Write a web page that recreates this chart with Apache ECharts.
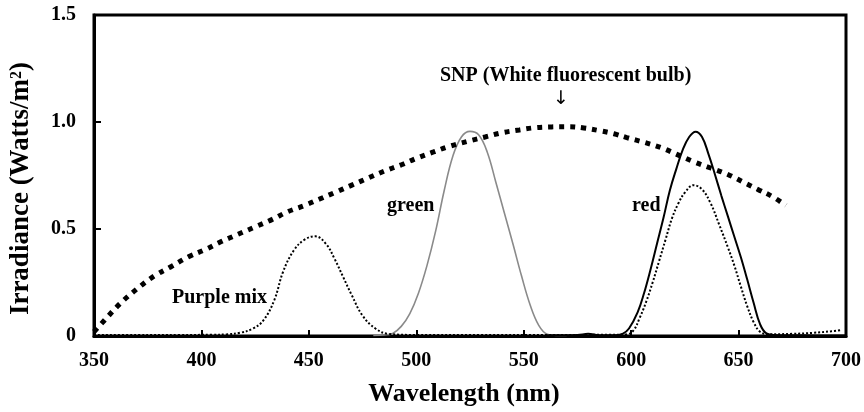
<!DOCTYPE html>
<html>
<head>
<meta charset="utf-8">
<script src="https://cdn.jsdelivr.net/npm/echarts@6/dist/echarts.min.js"></script>
<style>
  html, body { margin: 0; padding: 0; background: #fff; }
  #irradianceChart { width: 864px; height: 412px; }
</style>
</head>
<body>
<div id="irradianceChart"></div>
<script>
// wavelength (nm) / irradiance (W/m2)
const snpWl = [350, 355, 362, 370, 378, 386, 394, 402, 409, 417, 425, 433, 440, 448, 455, 462, 470, 478, 485, 493, 500, 508, 515, 524, 532, 540, 548, 555, 563, 571, 578, 585, 592, 598, 606, 614, 621, 629, 637, 645, 652, 659, 666, 672]
const snpIrr = [0.02, 0.075, 0.15, 0.22, 0.28, 0.325, 0.37, 0.405, 0.44, 0.475, 0.51, 0.545, 0.58, 0.61, 0.64, 0.67, 0.705, 0.74, 0.77, 0.8, 0.83, 0.86, 0.885, 0.91, 0.93, 0.95, 0.963, 0.973, 0.977, 0.978, 0.972, 0.96, 0.945, 0.927, 0.905, 0.88, 0.85, 0.815, 0.785, 0.755, 0.72, 0.685, 0.65, 0.61]

const purpleWl = [350, 370, 390, 405, 412, 418, 424, 429, 434, 438, 443, 448, 453, 458, 462, 466, 470, 475, 481, 487, 500, 530, 560, 590, 598, 601, 604, 607, 610, 613, 616, 619, 622, 625, 629, 633, 637, 641, 645, 648, 651, 654, 657, 660, 664, 675, 685, 693, 698]
const purpleIrr = [0.005, 0.005, 0.005, 0.006, 0.008, 0.015, 0.035, 0.075, 0.17, 0.3, 0.4, 0.45, 0.466, 0.43, 0.36, 0.275, 0.19, 0.095, 0.035, 0.01, 0.005, 0.005, 0.005, 0.006, 0.008, 0.025, 0.085, 0.16, 0.25, 0.35, 0.45, 0.55, 0.62, 0.67, 0.705, 0.685, 0.62, 0.52, 0.415, 0.33, 0.233, 0.14, 0.065, 0.02, 0.008, 0.01, 0.015, 0.022, 0.028]

const greenWl = [480, 485, 489, 493, 497, 501, 505, 509, 513, 517, 521, 525, 529, 533, 537, 541, 545, 549, 553, 557, 561, 565, 570]
const greenIrr = [0.003, 0.005, 0.012, 0.045, 0.105, 0.2, 0.33, 0.49, 0.68, 0.84, 0.93, 0.956, 0.94, 0.86, 0.72, 0.575, 0.43, 0.28, 0.145, 0.05, 0.008, 0.003, 0.002]

const redWl = [560, 575, 580, 585, 592, 596, 599, 603, 606, 609, 612, 615, 618, 621, 624, 627, 630, 633, 636, 639, 642, 645, 648, 651, 654, 657, 660, 663, 667, 680, 700]
const redIrr = [0.003, 0.005, 0.01, 0.004, 0.003, 0.01, 0.035, 0.11, 0.2, 0.31, 0.43, 0.55, 0.68, 0.78, 0.87, 0.93, 0.955, 0.93, 0.85, 0.755, 0.655, 0.56, 0.465, 0.37, 0.265, 0.155, 0.055, 0.012, 0.005, 0.003, 0.002]

const xTicks = [350, 700, 50]
const yTicks = [0, 1.5, 0.5]

const pairs = (xs, ys) => xs.map((x, i) => [x, ys[i]])
const serif = 'Liberation Serif'

const chart = echarts.init(document.getElementById('irradianceChart'))
const option = {
  animation: false,
  grid: {
    left: 92,
    right: 17,
    top: 15,
    bottom: 75,
    show: true,
    borderColor: '#000',
    borderWidth: 3
  },
  xAxis: {
    type: 'value',
    min: xTicks[0],
    max: xTicks[1],
    interval: xTicks[2],
    name: 'Wavelength (nm)',
    nameLocation: 'middle',
    nameGap: 45,
    nameTextStyle: { fontFamily: serif, fontWeight: 'bold', fontSize: 26, color: '#000', padding: [0, 12, 0, 0] },
    axisLine: { lineStyle: { color: '#000', width: 3 }},
    axisTick: { inside: true, length: 6, lineStyle: { color: '#000', width: 2 }},
    axisLabel: { fontFamily: serif, fontWeight: 'bold', fontSize: 20, color: '#000', margin: 15 },
    splitLine: { show: false }
  },
  yAxis: {
    type: 'value',
    min: yTicks[0],
    max: yTicks[1],
    interval: yTicks[2],
    name: 'Irradiance (Watts/m{sup|2})',
    nameLocation: 'middle',
    nameGap: 59,
    nameTextStyle: {
      fontFamily: serif, fontWeight: 'bold', fontSize: 27, color: '#000', padding: [0, 26, 0, 0],
      rich: {
        sup: { fontFamily: serif, fontWeight: 'bold', fontSize: 16, color: '#000', padding: [0, 0, 10, 0] }
      }
    },
    axisLine: { lineStyle: { color: '#000', width: 3 }},
    axisTick: { inside: true, length: 7, lineStyle: { color: '#000', width: 2 }},
    axisLabel: {
      fontFamily: serif, fontWeight: 'bold', fontSize: 20, color: '#000', margin: 18,
      formatter: v => (v === 0 ? '0' : v.toFixed(1))
    },
    splitLine: { show: false }
  },
  series: [
    {
      name: 'green',
      type: 'line',
      data: pairs(greenWl, greenIrr),
      smooth: 0.4,
      showSymbol: false,
      lineStyle: { color: '#8a8a8a', width: 1.6 }
    },
    {
      name: 'red',
      type: 'line',
      data: pairs(redWl, redIrr),
      smooth: 0.4,
      showSymbol: false,
      lineStyle: { color: '#000', width: 2 }
    },
    {
      name: 'Purple mix',
      type: 'line',
      data: pairs(purpleWl, purpleIrr),
      smooth: 0.4,
      showSymbol: false,
      lineStyle: { color: '#000', width: 2, type: [2, 2] }
    },
    {
      name: 'SNP',
      type: 'line',
      data: pairs(snpWl, snpIrr),
      smooth: 0.4,
      showSymbol: false,
      lineStyle: { color: '#000', width: 5, type: [5, 6] }
    }
  ],
  graphic: [
    { type: 'text', left: 440, top: 66, style: { text: 'SNP (White fluorescent bulb)', font: 'bold 20px "Liberation Serif"', fill: '#000' }},
    { type: 'text', left: 553, top: 90, style: { text: '↓', font: '19px "DejaVu Sans"', fill: '#000' }},
    { type: 'text', left: 387, top: 196, style: { text: 'green', font: 'bold 20px "Liberation Serif"', fill: '#000' }},
    { type: 'text', left: 632, top: 196, style: { text: 'red', font: 'bold 20px "Liberation Serif"', fill: '#000' }},
    { type: 'text', left: 172, top: 288, style: { text: 'Purple mix', font: 'bold 20px "Liberation Serif"', fill: '#000' }}
  ]
}
chart.setOption(option)
</script>
</body>
</html>
